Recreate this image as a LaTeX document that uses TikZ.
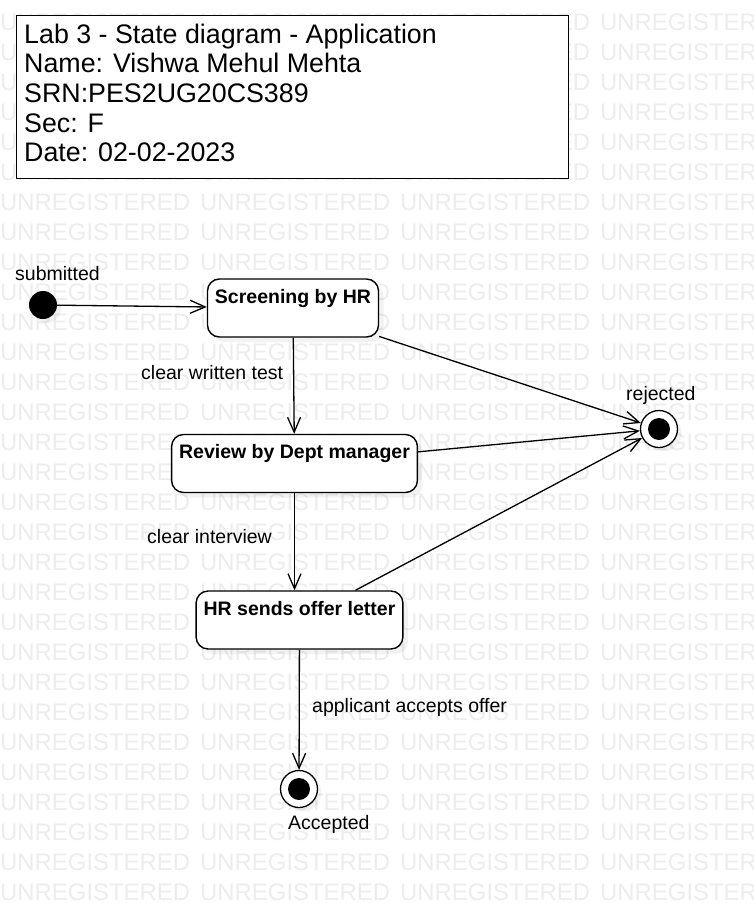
\documentclass[tikz,border=0pt]{standalone}
\usepackage{fontspec}
\setmainfont{Liberation Sans}
\usetikzlibrary{arrows.meta,shadows}

\begin{document}
\begin{tikzpicture}[x=1pt,y=-1pt,
		wmark/.style={font=\fontsize{23.9}{26}\selectfont, text=black!7, anchor=base west, inner sep=0},
		lbl/.style={font=\fontsize{19.5}{22}\selectfont, anchor=base west, inner sep=0},
		state/.style={draw, line width=1.4pt, rounded corners=12pt, fill=white,
			font=\fontsize{19.5}{22}\selectfont\bfseries, inner xsep=7.5pt, inner ysep=4pt,
			text height=20pt, text depth=30pt,
			drop shadow={opacity=0.1, shadow xshift=5pt, shadow yshift=-5pt}},
		initst/.style={circle, fill=black, minimum size=28pt, inner sep=0,
			drop shadow={opacity=0.1, shadow xshift=4pt, shadow yshift=-4pt}},
		finalst/.style={circle, draw, line width=1.3pt, fill=white, minimum size=37pt, inner sep=0,
			path picture={\fill[black] (path picture bounding box.center) circle (11pt);},
			drop shadow={opacity=0.1, shadow xshift=4pt, shadow yshift=-4pt}},
		trans/.style={-{Straight Barb[length=15pt,width=13pt]}, line width=1.3pt}]
		\useasboundingbox (0,0) rectangle (753,903);
		\fill[white] (0,0) rectangle (753,903);
		% watermark
		\foreach \r in {0,...,29}
			\foreach \c in {0,...,3}
				\node[wmark] (wm-\r-\c) at ({200*\c}, {30+30*\r}) {UNREGISTERED};
		% title box
		\node[draw, line width=1.4pt, fill=white, minimum width=552pt, minimum height=163pt,
			anchor=north west, inner sep=0] (titlebox) at (16,15) {};
		\foreach \t [count=\i] in {Lab 3 - State diagram - Application, Name: Vishwa Mehul Mehta,
			SRN:PES2UG20CS389, Sec: F, Date: 02-02-2023}
			\node[font=\fontsize{26.8}{29.5}\selectfont, anchor=base west, inner sep=0] (title\i)
				at (24, {43+29.7*(\i-1)}) {\t};
		% states
		\node[initst] (init) at (43,305) {};
		\node[state] (screen) at (293,308) {Screening by HR};
		\node[state] (review) at (294.5,463.5) {Review by Dept manager};
		\node[state] (offer) at (299.5,620) {HR sends offer letter};
		\node[finalst] (rejected) at (659,429) {};
		\node[finalst] (accepted) at (299,789) {};
		% labels
		\node[lbl] (submitted) at (15,280) {submitted};
		\node[lbl] (written) at (141,379) {clear written test};
		\node[lbl] (rej) at (626,400) {rejected};
		\node[lbl] (interview) at (147,543) {clear interview};
		\node[lbl] (accepts) at (312,712) {applicant accepts offer};
		\node[lbl] (acc) at (288,829) {Accepted};
		% transitions
		\draw[trans] (init)--(screen);
		\draw[trans] (screen)--(review);
		\draw[trans] (review)--(review |- offer.north);
		\draw[trans] (offer)--(accepted);
		\draw[trans] (screen)--(rejected);
		\draw[trans] (review)--(rejected);
		\draw[trans] (offer)--(rejected);
	\end{tikzpicture}
\end{document}
